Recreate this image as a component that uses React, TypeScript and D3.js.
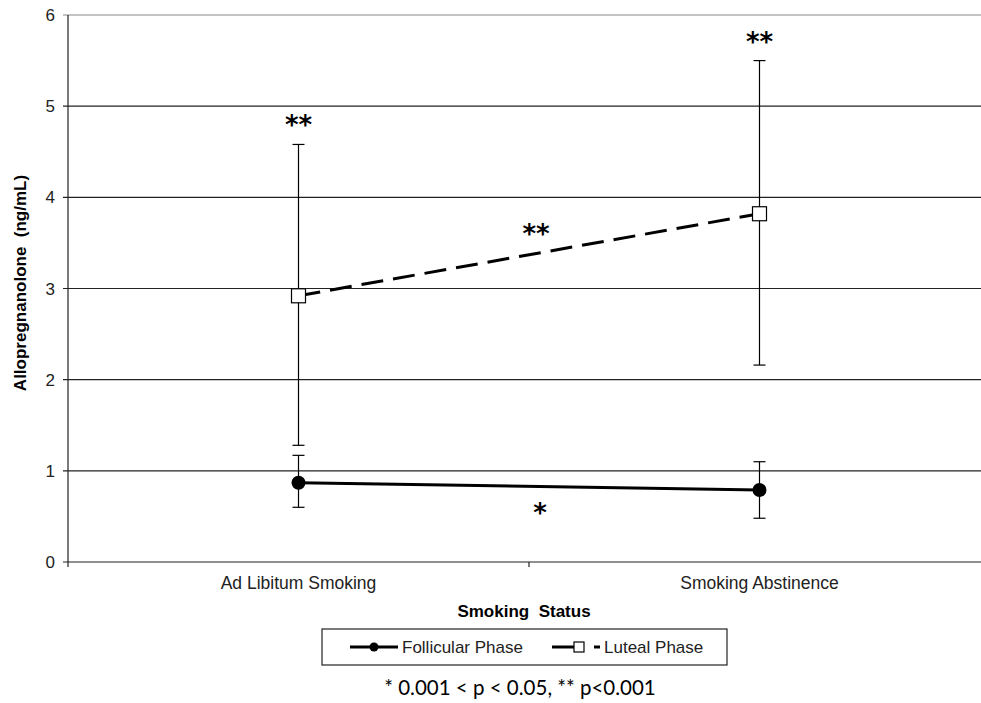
import React from "react";
import * as d3 from "d3";

const categories = ["Ad Libitum Smoking", "Smoking Abstinence"];
const follicularMean = [0.87, 0.79];
const follicularLow = [0.6, 0.48];
const follicularHigh = [1.17, 1.1];
const lutealMean = [2.92, 3.82];
const lutealLow = [1.28, 2.16];
const lutealHigh = [4.58, 5.5];
const yTicks = [0, 1, 2, 3, 4, 5, 6];
const pointSig = ["**", "**"];

export default function App() {
  const W = 981, H = 703;
  const left = 68, right = 990, top = 15, bottom = 562;
  const x = d3.scaleBand().domain(categories).range([left, right]);
  const cx = (c: string) => (x(c) as number) + x.bandwidth() / 2;
  const y = d3.scaleLinear().domain([0, 6]).range([bottom, top]);
  const line = d3.line<number>().x((_, i) => cx(categories[i])).y((d) => y(d));
  const axisFont = "'Liberation Sans', Arial, sans-serif";
  const starFont = "'DejaVu Sans', Verdana, sans-serif";

  const errBars = (lo: number[], hi: number[], key: string) =>
    categories.map((c, i) => (
      <g key={key + i} stroke="#000" strokeWidth={1.2}>
        <line x1={cx(c)} x2={cx(c)} y1={y(lo[i])} y2={y(hi[i])} />
        <line x1={cx(c) - 6} x2={cx(c) + 6} y1={y(lo[i])} y2={y(lo[i])} />
        <line x1={cx(c) - 6} x2={cx(c) + 6} y1={y(hi[i])} y2={y(hi[i])} />
      </g>
    ));

  return (
    <svg width={W} height={H} style={{ position: "absolute", left: 0, top: 0, background: "#fff" }}>
      <rect width={W} height={H} fill="#fff" />
      {yTicks.map((t) => (
        <g key={t}>
          <line x1={left - 5} x2={right} y1={y(t)} y2={y(t)} stroke={t === 6 ? "#888" : "#222"} strokeWidth={1.2} />
          <text x={left - 13} y={y(t) + 6} textAnchor="end" fontSize={17} fontFamily={axisFont} fill="#222">{t}</text>
        </g>
      ))}
      <line x1={left} x2={left} y1={top} y2={bottom + 5} stroke="#222" strokeWidth={1.2} />
      <line x1={left + x.bandwidth()} x2={left + x.bandwidth()} y1={bottom} y2={bottom + 5} stroke="#222" strokeWidth={1.2} />
      {categories.map((c) => (
        <text key={c} x={cx(c)} y={589} textAnchor="middle" fontSize={17.5} fontFamily={axisFont} fill="#222">{c}</text>
      ))}
      <text x={524} y={617} textAnchor="middle" fontSize={17} fontWeight="bold" fontFamily={axisFont} fill="#000" style={{ whiteSpace: "pre" }}>{"Smoking  Status"}</text>
      <text transform={`translate(26,${283}) rotate(-90)`} textAnchor="middle" fontSize={17} fontWeight="bold" fontFamily={axisFont} fill="#000" style={{ whiteSpace: "pre" }}>{"Allopregnanolone  (ng/mL)"}</text>

      {errBars(lutealLow, lutealHigh, "l")}
      {errBars(follicularLow, follicularHigh, "f")}

      <path d={line(lutealMean) || ""} fill="none" stroke="#000" strokeWidth={3} strokeDasharray="22,10" />
      <path d={line(follicularMean) || ""} fill="none" stroke="#000" strokeWidth={3} />
      {categories.map((c, i) => (
        <circle key={"c" + i} cx={cx(c)} cy={y(follicularMean[i])} r={7} fill="#000" />
      ))}
      {categories.map((c, i) => (
        <rect key={"s" + i} x={cx(c) - 7} y={y(lutealMean[i]) - 7} width={14} height={14} fill="#fff" stroke="#000" strokeWidth={1.2} />
      ))}

      {categories.map((c, i) => (
        <text key={"sig" + i} x={cx(c)} y={y(lutealHigh[i]) - 10} textAnchor="middle" fontSize={26} fontWeight="bold" fontFamily={starFont} fill="#000">{pointSig[i]}</text>
      ))}
      <text x={536} y={243} textAnchor="middle" fontSize={26} fontWeight="bold" fontFamily={starFont} fill="#000">**</text>
      <text x={540} y={522} textAnchor="middle" fontSize={26} fontWeight="bold" fontFamily={starFont} fill="#000">*</text>

      <rect x={322} y={629} width={405} height={36} fill="#fff" stroke="#222" strokeWidth={1.2} />
      <line x1={350} x2={398} y1={647} y2={647} stroke="#000" strokeWidth={3} />
      <circle cx={374} cy={647} r={4.5} fill="#000" />
      <text x={402} y={653} fontSize={17} fontFamily={axisFont} fill="#222">Follicular Phase</text>
      <line x1={552} x2={574} y1={647} y2={647} stroke="#000" strokeWidth={3} />
      <rect x={574} y={642} width={10} height={10} fill="#fff" stroke="#000" strokeWidth={1.2} />
      <line x1={594} x2={600} y1={647} y2={647} stroke="#000" strokeWidth={3} />
      <text x={604} y={653} fontSize={17} fontFamily={axisFont} fill="#222">Luteal Phase</text>

      <text x={520} y={695} textAnchor="middle" fontSize={20.5} fontFamily="Lato, 'Open Sans', sans-serif" fill="#000">* 0.001 &lt; p &lt; 0.05, ** p&lt;0.001</text>
    </svg>
  );
}
